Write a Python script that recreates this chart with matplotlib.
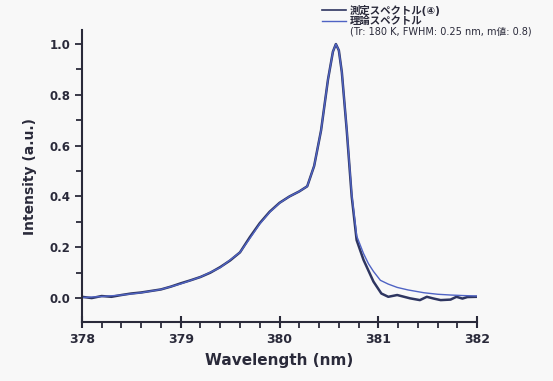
import matplotlib
matplotlib.use("Agg")
import matplotlib.pyplot as plt
from matplotlib.ticker import MultipleLocator

# ---- data ----
wl_meas = [378.00, 378.10, 378.20, 378.30, 378.40, 378.50, 378.60, 378.70, 378.80, 378.90,
           379.00, 379.10, 379.20, 379.30, 379.40, 379.50, 379.60, 379.70, 379.80, 379.90,
           380.00, 380.10, 380.20, 380.28, 380.35, 380.42, 380.49, 380.54, 380.57, 380.60,
           380.63, 380.68, 380.73, 380.78, 380.85, 380.95, 381.03, 381.10, 381.19, 381.32,
           381.42, 381.49, 381.56, 381.63, 381.73, 381.79, 381.85, 381.90, 382.00]
int_meas = [0.005, 0.000, 0.008, 0.005, 0.012, 0.018, 0.022, 0.028, 0.034, 0.045,
            0.058, 0.070, 0.083, 0.100, 0.122, 0.148, 0.180, 0.240, 0.295, 0.340,
            0.375, 0.400, 0.420, 0.440, 0.520, 0.660, 0.860, 0.970, 1.000, 0.975,
            0.890, 0.660, 0.400, 0.228, 0.150, 0.065, 0.018, 0.005, 0.012, -0.001,
            -0.008, 0.005, -0.002, -0.008, -0.006, 0.005, -0.002, 0.004, 0.005]

wl_theo = [378.00, 378.20, 378.40, 378.60, 378.80, 379.00, 379.20, 379.40, 379.60, 379.70,
           379.80, 379.90, 380.00, 380.10, 380.20, 380.28, 380.35, 380.42, 380.49, 380.54,
           380.57, 380.60, 380.63, 380.68, 380.73, 380.78, 380.85, 380.90, 380.95, 381.02,
           381.10, 381.19, 381.30, 381.46, 381.60, 381.73, 381.85, 382.00]
int_theo = [0.002, 0.006, 0.012, 0.021, 0.034, 0.056, 0.083, 0.120, 0.180, 0.235,
            0.292, 0.338, 0.374, 0.400, 0.420, 0.440, 0.520, 0.660, 0.860, 0.970,
            1.000, 0.975, 0.890, 0.665, 0.410, 0.245, 0.175, 0.135, 0.105, 0.070,
            0.055, 0.042, 0.032, 0.021, 0.015, 0.012, 0.010, 0.008]

x_ticks = [378, 379, 380, 381, 382]
y_ticks = [0.0, 0.2, 0.4, 0.6, 0.8, 1.0]
label_meas = "測定スペクトル(④)"
label_theo = "理論スペクトル"
label_params = "(Tr: 180 K, FWHM: 0.25 nm, m値: 0.8)"
xlabel = "Wavelength (nm)"
ylabel = "Intensity (a.u.)"

# ---- style ----
fonts = ['DejaVu Sans', 'Noto Sans CJK JP']
plt.rcParams['font.family'] = fonts
text_col = '#2a2a3a'
col_meas = '#2e3560'
col_theo = '#4f63c4'
bg = '#f8f8f8'

fig = plt.figure(figsize=(5.53, 3.81), dpi=100, facecolor=bg)
ax = fig.add_axes([0.148, 0.155, 0.715, 0.766], facecolor=bg)

ax.plot(wl_meas, int_meas, color=col_meas, lw=1.8, solid_joinstyle='round')
ax.plot(wl_theo, int_theo, color=col_theo, lw=1.0)

ax.set_xlim(378, 382)
ax.set_ylim(-0.094, 1.055)
ax.set_xticks(x_ticks)
ax.set_yticks(y_ticks)
ax.set_yticklabels([f"{v:.1f}" for v in y_ticks])
ax.xaxis.set_minor_locator(MultipleLocator(0.2))
ax.yaxis.set_minor_locator(MultipleLocator(0.1))

for s in ['top', 'right']:
    ax.spines[s].set_visible(False)
for s in ['left', 'bottom']:
    ax.spines[s].set_linewidth(1.5)
    ax.spines[s].set_color(text_col)

ax.tick_params(axis='x', which='major', direction='inout', length=8, width=1.5,
               colors=text_col, labelsize=9, pad=4)
ax.tick_params(axis='x', which='minor', direction='out', length=4, width=1.3, colors=text_col)
ax.tick_params(axis='y', which='major', direction='out', length=5, width=1.3,
               colors=text_col, labelsize=8.5, pad=3)
ax.tick_params(axis='y', which='minor', direction='out', length=4, width=1.3, colors=text_col)
for lbl in ax.get_xticklabels() + ax.get_yticklabels():
    lbl.set_fontweight('bold')

ax.set_xlabel(xlabel, fontsize=11, fontweight='bold', color=text_col, labelpad=5)
ax.set_ylabel(ylabel, fontsize=10, fontweight='bold', color=text_col, labelpad=9)

# legend (manual, in figure coords)
lx0, lx1, tx = 322 / 553, 346 / 553, 350 / 553
for yy, col, lw, txt in [(10, col_meas, 1.2, label_meas), (21, col_theo, 1.0, label_theo)]:
    fy = 1 - yy / 381
    fig.add_artist(plt.Line2D([lx0, lx1], [fy, fy], color=col, lw=lw, transform=fig.transFigure))
    fig.text(tx, fy, txt, fontsize=7.5, fontweight='bold', color=text_col, va='center', ha='left')
fig.text(tx, 1 - 31 / 381, label_params, fontsize=7, color=text_col, va='center', ha='left')

fig.savefig('out.png', dpi=100, facecolor=bg)
